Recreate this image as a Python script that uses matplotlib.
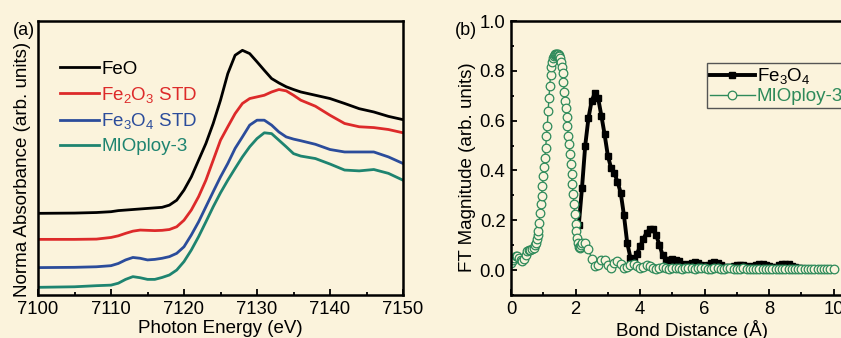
import numpy as np
import matplotlib
matplotlib.use("Agg")
import matplotlib.pyplot as plt

plt.rcParams['font.family'] = ['Liberation Sans', 'DejaVu Sans']
plt.rcParams['mathtext.fontset'] = 'custom'
plt.rcParams['mathtext.rm'] = 'Liberation Sans'
plt.rcParams['mathtext.it'] = 'Liberation Sans:italic'

BG = '#fbf3dc'

# (a) XANES, normalised absorbance with vertical offsets
energy = [7100, 7105, 7108, 7110, 7111, 7112, 7113, 7114, 7115, 7116, 7117,
          7118, 7119, 7120, 7121, 7122, 7123, 7124, 7125, 7126, 7127, 7128,
          7129, 7130, 7131, 7132, 7133, 7134, 7135, 7136, 7138, 7140, 7142,
          7144, 7146, 7148, 7150]
feo = [0.298, 0.299, 0.301, 0.304, 0.308, 0.310, 0.312, 0.314, 0.316, 0.318,
       0.320, 0.328, 0.346, 0.383, 0.431, 0.492, 0.553, 0.626, 0.711, 0.808,
       0.875, 0.893, 0.881, 0.851, 0.820, 0.790, 0.774, 0.760, 0.750, 0.741,
       0.729, 0.717, 0.699, 0.680, 0.668, 0.652, 0.640]
fe2o3 = [0.203, 0.203, 0.204, 0.210, 0.216, 0.225, 0.233, 0.237, 0.236, 0.235,
         0.236, 0.239, 0.249, 0.273, 0.310, 0.359, 0.419, 0.492, 0.565, 0.614,
         0.662, 0.699, 0.717, 0.723, 0.729, 0.741, 0.750, 0.745, 0.729, 0.711,
         0.689, 0.656, 0.626, 0.614, 0.611, 0.604, 0.592]
fe3o4 = [0.100, 0.101, 0.103, 0.107, 0.115, 0.128, 0.137, 0.134, 0.128, 0.130,
         0.134, 0.140, 0.152, 0.176, 0.219, 0.267, 0.322, 0.377, 0.431, 0.480,
         0.535, 0.577, 0.620, 0.638, 0.638, 0.620, 0.595, 0.577, 0.569, 0.563,
         0.550, 0.531, 0.522, 0.522, 0.522, 0.504, 0.480]
mio = [0.028, 0.030, 0.034, 0.036, 0.043, 0.057, 0.067, 0.063, 0.057, 0.057,
       0.064, 0.073, 0.091, 0.122, 0.164, 0.213, 0.267, 0.322, 0.373, 0.419,
       0.462, 0.504, 0.541, 0.571, 0.592, 0.589, 0.565, 0.541, 0.516, 0.507,
       0.498, 0.478, 0.456, 0.453, 0.458, 0.444, 0.419]

# (b) FT magnitude
r_fe3o4 = np.round(np.arange(2.1, 9.01, 0.1), 2)
ft_fe3o4 = [0.18, 0.33, 0.50, 0.61, 0.68, 0.71, 0.69, 0.62, 0.545, 0.46,
            0.41, 0.39, 0.355, 0.31, 0.22, 0.11, 0.05, 0.045, 0.065, 0.095,
            0.125, 0.15, 0.165, 0.163, 0.14, 0.10, 0.06, 0.042, 0.04, 0.043,
            0.042, 0.035, 0.025, 0.02, 0.025, 0.03, 0.032, 0.03, 0.022, 0.018,
            0.022, 0.03, 0.032, 0.028, 0.02, 0.014, 0.012, 0.013, 0.016, 0.02,
            0.022, 0.02, 0.017, 0.014, 0.015, 0.019, 0.023, 0.025, 0.022, 0.016,
            0.013, 0.014, 0.019, 0.023, 0.025, 0.023, 0.018, 0.013, 0.01, 0.008]

r_mio = np.round(np.r_[np.arange(0.0, 0.76, 0.05),
                       np.arange(0.775, 2.21, 0.025),
                       np.arange(2.3, 10.01, 0.1)], 3)
ft_mio = [0.03, 0.04, 0.05, 0.055, 0.055, 0.05, 0.04, 0.035, 0.045, 0.06,
          0.075, 0.08, 0.08, 0.085, 0.09, 0.10,
          0.11, 0.125, 0.14, 0.157, 0.19, 0.23, 0.265, 0.297, 0.337, 0.378,
          0.415, 0.451, 0.49, 0.54, 0.58, 0.64, 0.69, 0.74, 0.785, 0.815,
          0.835, 0.85, 0.858, 0.864, 0.867, 0.869, 0.869, 0.867, 0.864, 0.858,
          0.85, 0.835, 0.815, 0.79, 0.755, 0.715, 0.68, 0.652, 0.615, 0.578,
          0.54, 0.505, 0.465, 0.424, 0.384, 0.344, 0.304, 0.264, 0.224, 0.184,
          0.155, 0.130, 0.108, 0.092, 0.088, 0.092, 0.10, 0.107,
          0.11, 0.085, 0.045, 0.015, 0.02, 0.04, 0.04, 0.02, 0.01, 0.03,
          0.037, 0.025, 0.01, 0.012, 0.02, 0.025, 0.018, 0.008, 0.012, 0.02,
          0.018, 0.01, 0.006, 0.01, 0.014, 0.01, 0.006, 0.008,
          0.01, 0.009, 0.006, 0.007, 0.009, 0.008, 0.006, 0.007, 0.009, 0.008,
          0.006, 0.006, 0.008, 0.008, 0.006, 0.005, 0.007, 0.008, 0.006, 0.005,
          0.006, 0.007, 0.006, 0.005, 0.005, 0.006, 0.006, 0.005, 0.005, 0.006,
          0.006, 0.005, 0.005, 0.006, 0.005, 0.005, 0.005, 0.005, 0.005, 0.005,
          0.004, 0.005, 0.005, 0.004, 0.005, 0.004, 0.005, 0.004, 0.004, 0.005]

fig = plt.figure(figsize=(8.41, 3.38), dpi=100, facecolor=BG)

# ---- panel (a)
ax1 = fig.add_axes([38/841, 43/338, 365/841, 274/338], facecolor=BG)
ax1.plot(energy, feo, color='black', lw=2, label='FeO')
ax1.plot(energy, fe2o3, color='#dd2a2a', lw=2, label='Fe$_2$O$_3$ STD')
ax1.plot(energy, fe3o4, color='#2b4c9b', lw=2, label='Fe$_3$O$_4$ STD')
ax1.plot(energy, mio, color='#1e8470', lw=2, label='MIOploy-3')
ax1.set_xlim(7100, 7150)
ax1.set_ylim(0, 1)
ax1.set_xticks([7100, 7110, 7120, 7130, 7140, 7150])
ax1.set_xticks(np.arange(7105, 7150, 10), minor=True)
ax1.set_yticks([])
ax1.tick_params(axis='x', which='both', direction='in', width=1.3, labelsize=13.3, pad=4)
ax1.tick_params(axis='x', which='major', length=4)
ax1.tick_params(axis='x', which='minor', length=2.5)
ax1.set_xlabel('Photon Energy (eV)', fontsize=13.5, labelpad=2)
ax1.set_ylabel('Norma Absorbance (arb. units)', fontsize=13.5)
ax1.yaxis.set_label_coords(-0.02, 0.46)
for s in ax1.spines.values():
    s.set_linewidth(1.8)
leg1 = ax1.legend(loc='upper left', bbox_to_anchor=(0.04, 0.882), frameon=False,
                  fontsize=13.5, handlelength=2.1, handletextpad=0.1,
                  labelspacing=0.36, borderaxespad=0)
for t, l in zip(leg1.get_texts(), leg1.get_lines()):
    t.set_color(l.get_color())
fig.text(13/841, 1 - 35/338, '(a)', fontsize=13)

# ---- panel (b)
ax2 = fig.add_axes([511/841, 43/338, 332.4/841, 274/338], facecolor=BG)
ax2.plot(r_fe3o4, ft_fe3o4, color='black', lw=2.8, marker='s', ms=4,
         label='Fe$_3$O$_4$')
ax2.plot(r_mio, ft_mio, color='#2e8a5a', lw=1, marker='o', ms=6.2,
         mfc=BG, mec='#2e8a5a', mew=0.9, label='MIOploy-3')
ax2.set_xlim(0, 10.3)
ax2.set_ylim(-0.1, 1.0)
ax2.set_xticks([0, 2, 4, 6, 8, 10])
ax2.set_xticks([1, 3, 5, 7, 9], minor=True)
ax2.set_yticks([0.0, 0.2, 0.4, 0.6, 0.8, 1.0])
ax2.set_yticks(np.arange(-0.1, 1.0, 0.2), minor=True)
ax2.tick_params(which='both', direction='in', width=1.3, labelsize=13.3, pad=4)
ax2.tick_params(which='major', length=4)
ax2.tick_params(which='minor', length=2.5)
ax2.set_xlabel('Bond Distance (Å)', fontsize=13.5)
ax2.xaxis.set_label_coords(0.545, -0.092)
ax2.xaxis.label.set_va('top')
ax2.set_ylabel('FT Magnitude (arb. units)', fontsize=13.5)
ax2.yaxis.set_label_coords(-0.105, 0.465)
for s in ax2.spines.values():
    s.set_linewidth(1.8)
leg2 = ax2.legend(loc='upper left', bbox_to_anchor=(0.59, 0.845),
                  fontsize=13.5, handlelength=2.4, handletextpad=0.1,
                  labelspacing=0.1, borderpad=0.15, borderaxespad=0,
                  numpoints=1, fancybox=False, facecolor=BG,
                  edgecolor='#555555', framealpha=1)
leg2.get_frame().set_linewidth(1)
leg2.get_texts()[1].set_color('#2e8a5a')
fig.text(455/841, 1 - 35/338, '(b)', fontsize=13)

fig.savefig('out.png', dpi=100, facecolor=BG)
